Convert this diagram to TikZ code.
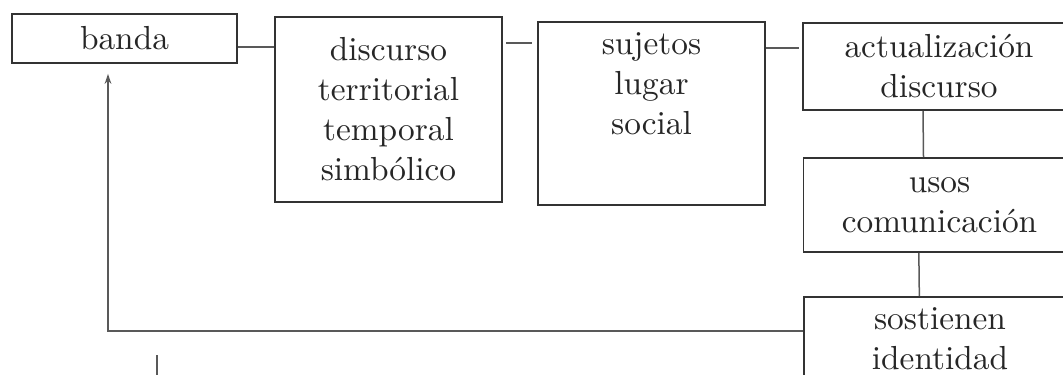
\documentclass[tikz,border=0pt]{standalone}
\usepackage{tikz}
\usetikzlibrary{arrows.meta}
\tikzset{
   box/.style={draw=black!80, line width=0.5pt, rectangle, align=center,
      inner sep=0pt, text=black!85},
   boxtext/.style={align=center, inner sep=0pt, anchor=north, text=black!85},
   link/.style={draw=black!65, line width=0.45pt},
    }

\begin{document}
\begin{tikzpicture}[x=0.3pt, y=-0.3pt]
        \useasboundingbox (0,0) rectangle (1063,375);
        \clip (0,0) rectangle (1063,375);
        \node[box, minimum width=67.5pt, minimum height=14.7pt] (banda) at (124.5,38.5) {banda};
        \node[box, minimum width=68.1pt, minimum height=55.5pt] (disc) at (388.5,109.5)
            {discurso\\territorial\\temporal\\simb\'olico};
        \node[box, minimum width=68.1pt, minimum height=54.9pt] (suj) at (651.5,113.5) {};
        \node[boxtext] (sujtxt) at ([yshift=-3.3pt]suj.north) {sujetos\\lugar\\social};
        \node[box, minimum width=81.6pt, minimum height=26.1pt] (act) at (939,66.5)
            {actualizaci\'on\\discurso};
        \node[box, minimum width=81.6pt, minimum height=28.2pt] (usos) at (939.5,205)
            {usos\\comunicaci\'on};
        \node[box, minimum width=81.6pt, minimum height=30.9pt] (sost) at (940,348.5) {};
        \node[boxtext] (sosttxt) at ([yshift=-3.3pt]sost.north) {sostienen\\identidad};

        \coordinate (b1) at ([yshift=-2.5pt]banda.east);
        \coordinate (d1) at ([yshift=20pt]disc.east);
        \coordinate (s1) at ([yshift=19.6pt]suj.east);
        \coordinate (t1) at ([yshift=5.2pt]sost.west);
        \coordinate (u1) at (157,355);
        \coordinate (u2) at (157,385);

        \draw[link] (b1) -- (b1 -| disc.west);
        \draw[link, shorten <=1pt, shorten >=1.5pt] (d1) -- (d1 -| suj.west);
        \draw[link, shorten >=1pt] (s1) -- (s1 -| act.west);
        \draw[link] ([xshift=-4.8pt]act.south) -- ([xshift=-4.8pt]usos.north);
        \draw[link] ([xshift=-6.2pt]usos.south) -- ([xshift=-6.2pt]sost.north);
        \draw[link, -{Stealth[length=3pt,width=2pt]}, shorten >=3pt]
            (t1) -| ([xshift=-4.95pt]banda.south);
        \draw[link] (u1) -- (u2);
    \end{tikzpicture}
\end{document}
